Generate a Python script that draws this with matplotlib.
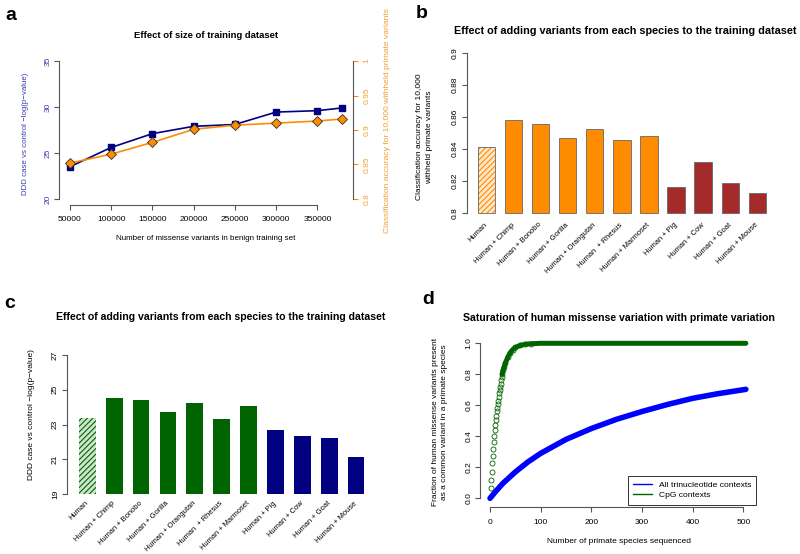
import numpy as np
import matplotlib
matplotlib.use('Agg')
import matplotlib.pyplot as plt

plt.rcParams['font.family'] = ['Liberation Sans', 'DejaVu Sans']
plt.rcParams['hatch.linewidth'] = 0.8

# panel a: size of training dataset
n_benign = [50000, 100000, 150000, 200000, 250000, 300000, 350000, 380000]
ddd_logp = [23.5, 25.6, 27.1, 27.9, 28.1, 29.45, 29.6, 29.9]
acc_size = [0.852, 0.865, 0.882, 0.901, 0.907, 0.910, 0.913, 0.916]

# panels b, c: species added to training set
species = ['Human', 'Human + Chimp', 'Human + Bonobo', 'Human + Gorilla',
           'Human + Orangutan', 'Human  + Rhesus', 'Human + Marmoset',
           'Human + Pig', 'Human + Cow', 'Human + Goat', 'Human + Mouse']
acc_species = [0.8413, 0.858, 0.8554, 0.8467, 0.8525, 0.8455, 0.848,
               0.8162, 0.832, 0.8189, 0.8128]
ddd_species = [23.36, 24.54, 24.43, 23.70, 24.24, 23.30, 24.06,
               22.68, 22.32, 22.22, 21.13]
n_primate = 7

# panel d: saturation curves
all_x = [0, 10, 25, 50, 75, 100, 150, 200, 250, 300, 350, 400, 450, 505]
all_y = [0.0, 0.04, 0.095, 0.17, 0.235, 0.29, 0.38, 0.45, 0.51, 0.56,
         0.605, 0.645, 0.675, 0.703]
cpg_x = list(range(1, 25)) + [26, 28, 30, 35, 40, 45, 50, 60, 70, 80,
                              100, 200, 300, 400, 505]
cpg_y = [0.065, 0.118, 0.172, 0.226, 0.273, 0.32, 0.366, 0.40, 0.44, 0.47,
         0.505, 0.53, 0.56, 0.585, 0.61, 0.63, 0.656, 0.677, 0.70, 0.72,
         0.74, 0.763, 0.785, 0.80,
         0.83, 0.85, 0.87, 0.91, 0.94, 0.96, 0.973, 0.987, 0.994, 0.997,
         1.0, 1.0, 1.0, 1.0, 1.0]

W, H = 800, 554
fig = plt.figure(figsize=(W / 100, H / 100), dpi=100)


def box(l, t, r, b):
    return [l / W, 1 - b / H, (r - l) / W, (b - t) / H]


def ftext(x, y, s, **kw):
    fig.text(x / W, 1 - y / H, s, ha='center', va='center', **kw)


AX = '#555555'
TICK = 6.0
LAB = 6.0
TITLE = 7.6
CAT = 5.4


def r_style(ax, xb=None, yb=None):
    for s in ['top', 'right']:
        ax.spines[s].set_visible(False)
    for s in ['left', 'bottom', 'right']:
        ax.spines[s].set_color(AX)
        ax.spines[s].set_linewidth(0.8)
    if xb is None:
        ax.spines['bottom'].set_visible(False)
        ax.tick_params(axis='x', length=0)
    else:
        ax.spines['bottom'].set_bounds(*xb)
    ax.spines['left'].set_bounds(*yb)
    ax.tick_params(direction='out', length=3.5, width=0.8, color=AX,
                   labelsize=TICK)
    for lab in ax.get_yticklabels():
        lab.set_rotation(90)
        lab.set_va('center')


def cat_labels(ax, pad):
    ax.set_xticks(xpos)
    ax.set_xticklabels(species, rotation=45, ha='right', va='center',
                       rotation_mode='anchor', fontsize=CAT)
    ax.tick_params(axis='x', pad=pad, length=0)


# ---- panel a ----
ax = fig.add_axes(box(59, 55.5, 353, 204.5))
ax.plot(n_benign, ddd_logp, '-s', color='navy', lw=1.2, ms=4.5, zorder=3)
ax.set_xlim(36800, 393200)
ax.set_ylim(19.4, 35.6)
ax.set_xticks(range(50000, 350001, 50000))
ax.set_yticks([20, 25, 30, 35])
r_style(ax, (50000, 350000), (20, 35))
ax.tick_params(axis='y', labelcolor='#3b3bb0', pad=2)
ax.tick_params(axis='x', pad=5)
ax2 = ax.twinx()
ax2.plot(n_benign, acc_size, '-D', color='darkorange', lw=1.2, ms=5.3,
         mec='#333333', mew=0.6, zorder=2)
ax2.set_ylim(0.792, 1.008)
ax2.set_yticks([0.8, 0.85, 0.9, 0.95, 1.0])
ax2.set_yticklabels(['0.8', '0.85', '0.9', '0.95', '1'])
for s in ['top', 'left', 'bottom']:
    ax2.spines[s].set_visible(False)
ax2.spines['right'].set_bounds(0.8, 1.0)
ax2.spines['right'].set_color(AX)
ax2.spines['right'].set_linewidth(0.8)
ax2.tick_params(direction='out', length=3.5, width=0.8, color='darkorange',
                labelsize=TICK, labelcolor='#f0a030', pad=4)
for lab in ax2.get_yticklabels():
    lab.set_rotation(90)
    lab.set_va('center')
ftext(206, 35, 'Effect of size of training dataset', fontsize=6.8,
      fontweight='bold')
ftext(206, 239, 'Number of missense variants in benign training set',
      fontsize=5.8)
ftext(25.7, 134, 'DDD case vs control \u2212log(p\u2212value)', fontsize=5.7,
      rotation=90, color='#3b3bb0')
ftext(387.7, 121, 'Classification accuracy for 10,000 withheld primate variants',
      fontsize=6.1, rotation=90, color='#f0a030')
ftext(11, 15, 'a', fontsize=14, fontweight='bold')

xpos = np.arange(len(species))
bw = 0.64

# ---- panel b ----
ax = fig.add_axes(box(466.7, 46.3, 777, 219.7))
col_b = ['darkorange'] * n_primate + ['#a52a2a'] * (len(species) - n_primate)
heights_b = np.array(acc_species) - 0.8
ax.bar(xpos[1:], heights_b[1:], bw, bottom=0.8, color=col_b[1:],
       edgecolor='#666666', lw=0.6)
ax.bar(xpos[0], heights_b[0], bw, bottom=0.8, color='#ffe6c8',
       edgecolor='darkorange', hatch='//////', lw=0)
ax.bar(xpos[0], heights_b[0], bw, bottom=0.8, fill=False,
       edgecolor='#666666', lw=0.6)
ax.set_xlim(-0.726, 10.726)
ax.set_ylim(0.796, 0.904)
ax.set_yticks([0.8, 0.82, 0.84, 0.86, 0.88, 0.9])
ax.set_yticklabels(['0.8', '0.82', '0.84', '0.86', '0.88', '0.9'])
r_style(ax, None, (0.8, 0.9))
cat_labels(ax, 3)
ax.tick_params(axis='y', pad=2)
ftext(625, 31, 'Effect of adding variants from each species to the training dataset',
      fontsize=7.8, fontweight='bold')
ftext(424.5, 137, 'Classification accuracy for 10,000\nwithheld primate variants',
      fontsize=LAB, rotation=90, linespacing=1.55)
ftext(422, 14, 'b', fontsize=14, fontweight='bold')

# ---- panel c ----
ax = fig.add_axes(box(66.7, 349.4, 376.7, 499.6))
col_c = ['darkgreen'] * n_primate + ['navy'] * (len(species) - n_primate)
heights_c = np.array(ddd_species) - 19
ax.bar(xpos[1:], heights_c[1:], bw * 0.97, bottom=19, color=col_c[1:], lw=0)
ax.bar(xpos[0], heights_c[0], bw * 0.97, bottom=19, color='#cfe3cf',
       edgecolor='darkgreen', hatch='//////', lw=0)
ax.set_xlim(-0.767, 10.767)
ax.set_ylim(18.68, 27.32)
ax.set_yticks([19, 21, 23, 25, 27])
r_style(ax, None, (19, 27))
cat_labels(ax, 2)
ax.tick_params(axis='y', pad=2)
ftext(221, 316.7, 'Effect of adding variants from each species to the training dataset',
      fontsize=TITLE, fontweight='bold')
ftext(32, 415, 'DDD case vs control \u2212log(p\u2212value)', fontsize=LAB,
      rotation=90)
ftext(10, 304, 'c', fontsize=14, fontweight='bold')

# ---- panel d ----
ax = fig.add_axes(box(480.3, 337.1, 756.1, 504.5))
ax.plot(all_x, all_y, '-', color='blue', lw=4.0, solid_capstyle='round',
        label='All trinucleotide contexts')
ax.plot(cpg_x[23:], cpg_y[23:], '-', color='darkgreen', lw=3.6,
        solid_capstyle='round')
ax.plot(cpg_x[:34], cpg_y[:34], 'o', mfc='none', mec='darkgreen', ms=3.6,
        mew=0.6)
ax.plot([], [], '-', color='darkgreen', lw=1, label='CpG contexts')
ax.set_xlim(-19.2, 525.2)
ax.set_ylim(-0.04, 1.04)
ax.set_xticks([0, 100, 200, 300, 400, 500])
ax.set_yticks([0.0, 0.2, 0.4, 0.6, 0.8, 1.0])
ax.set_yticklabels(['0.0', '0.2', '0.4', '0.6', '0.8', '1.0'])
r_style(ax, (0, 500), (0, 1))
ax.spines['bottom'].set_position(('outward', 2))
ax.tick_params(axis='x', pad=5)
ax.tick_params(axis='y', pad=2)
leg = ax.legend(loc='lower right', fontsize=6.1, frameon=True, fancybox=False,
                borderaxespad=0, handlelength=2.2, edgecolor='#333333',
                framealpha=1, borderpad=0.6, labelspacing=0.3)
leg.get_frame().set_linewidth(0.7)
leg.legend_handles[0].set_linewidth(1)
ftext(619, 317.7, 'Saturation of human missense variation with primate variation',
      fontsize=TITLE, fontweight='bold')
ftext(619, 541.7, 'Number of primate species sequenced', fontsize=LAB)
ftext(440, 421.7, 'Fraction of human missense variants present\n'
      'as a common variant in a primate species', fontsize=LAB, rotation=90,
      linespacing=1.55)
ftext(428, 300, 'd', fontsize=14, fontweight='bold')

fig.savefig('out.png', dpi=100)
